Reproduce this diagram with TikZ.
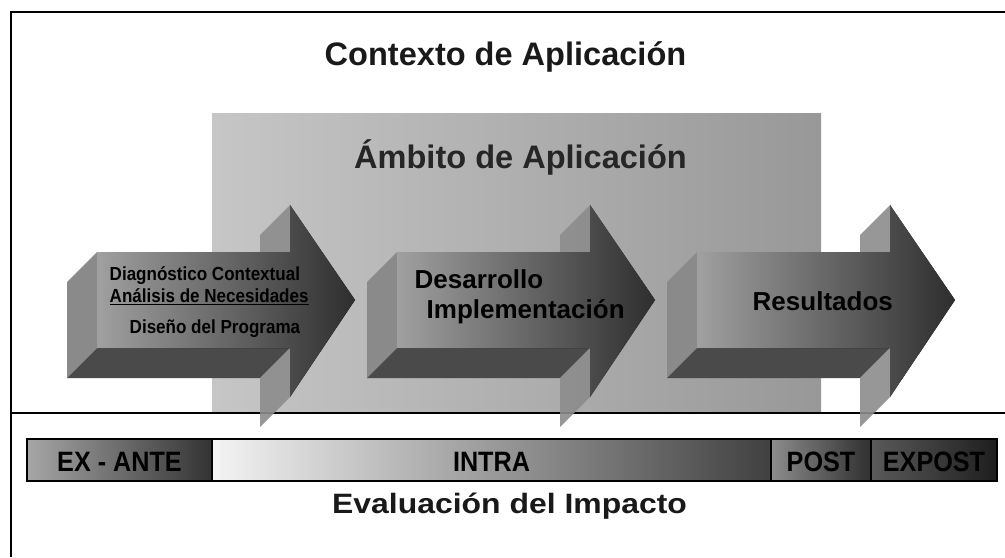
\documentclass[tikz,border=0pt]{standalone}
\usepackage{fontspec}
\setmainfont{Liberation Sans}
\newfontfamily\narrowsf[FakeStretch=0.9]{Liberation Sans}
\newfontfamily\widesf[FakeStretch=1.14]{Liberation Sans}
\usetikzlibrary{positioning}

\definecolor{panelL}{HTML}{C6C6C6}
\definecolor{panelR}{HTML}{989898}
\definecolor{frontL}{HTML}{A0A0A0}
\definecolor{frontR}{HTML}{2E2E2E}
\definecolor{sideC}{HTML}{8A8A8A}
\definecolor{bottomC}{HTML}{4A4A4A}
\definecolor{shoulderC}{HTML}{8C8C8C}
\definecolor{exL}{HTML}{A6A6A6}
\definecolor{exR}{HTML}{333333}
\definecolor{inL}{HTML}{F4F4F4}
\definecolor{inR}{HTML}{404040}
\definecolor{poL}{HTML}{8C8C8C}
\definecolor{poR}{HTML}{303030}
\definecolor{xpL}{HTML}{5A5A5A}
\definecolor{xpR}{HTML}{1E1E1E}

\begin{document}
\begin{tikzpicture}[
        x=0.75pt, y=-0.75pt,
        frontface/.style={left color=frontL, right color=frontR},
        sideface/.style={fill=sideC},
        bottomface/.style={fill=bottomC},
        shoulder/.style={fill=shoulderC, fill opacity=0.9},
        barcell/.style={draw=black, line width=1pt},
        title/.style={font=\bfseries\fontsize{24.4}{28}\selectfont, text=black!90},
        steptext/.style={font=\bfseries\fontsize{19.5}{23}\selectfont, anchor=base west},
        smalltext/.style={font=\narrowsf\bfseries\fontsize{14.2}{17}\selectfont, anchor=base west},
        celltext/.style={font=\narrowsf\bfseries\fontsize{21}{24}\selectfont, anchor=base}
    ]
    \useasboundingbox (0,0) rectangle (1005,557);

    % frame and scope panel
    \draw[line width=1.5pt] (11,557) -- (11,12) -- (1005,12);
    \fill[left color=panelL, right color=panelR] (212,113) rectangle (821,413);
    \draw[line width=1.2pt] (11,413) -- (1005,413);

    % 3d arrows
    \foreach \dx in {0,300,600}{
        \begin{scope}[shift={(\dx,0)}]
            \fill[sideface] (97,252) -- (67,282) -- (67,378) -- (97,348) -- cycle;
            \fill[bottomface] (97,348) -- (67,378) -- (260,378) -- (290,348) -- cycle;
            \fill[shoulder] (290,205) -- (260,235) -- (260,282) -- (290,252) -- cycle;
            \fill[shoulder] (290,348) -- (260,378) -- (260,427) -- (290,397) -- cycle;
            \fill[frontface] (97,252) -- (290,252) -- (290,205) -- (355,300)
                -- (290,397) -- (290,348) -- (97,348) -- cycle;
        \end{scope}
    }

    % timeline bar
    \foreach \a/\b/\cl/\cr in {27/212/exL/exR, 212/771/inL/inR, 771/871/poL/poR, 871/997/xpL/xpR}
        \draw[barcell, left color=\cl, right color=\cr] (\a,439) rectangle (\b,481);

    \node[title, anchor=base] (ctx) at (505.5,65) {Contexto de Aplicación};
    \node[title, anchor=base, text=black!85] (amb) at (520.5,168) {Ámbito de Aplicación};

    \node[smalltext] (diag) at (105,280) {Diagnóstico Contextual};
    \node[smalltext] (anal) at (105,302) {\underline{Análisis de Necesidades}};
    \node[smalltext] (dise) at (125,333) {Diseño del Programa};

    \node[steptext] (desa) at (410,288) {Desarrollo};
    \node[steptext] (impl) at (422,318) {Implementación};
    \node[steptext] (resu) at (748,310) {Resultados};

    \node[celltext] (exante) at (119.5,471) {EX - ANTE};
    \node[celltext] (intra) at (491.5,471) {INTRA};
    \node[celltext] (post) at (821,471) {POST};
    \node[celltext] (expost) at (934,471) {EXPOST};

    \node[font=\widesf\bfseries\fontsize{21}{24}\selectfont, anchor=base, text=black!90]
        (eval) at (509.5,513) {Evaluación del Impacto};
\end{tikzpicture}
\end{document}
